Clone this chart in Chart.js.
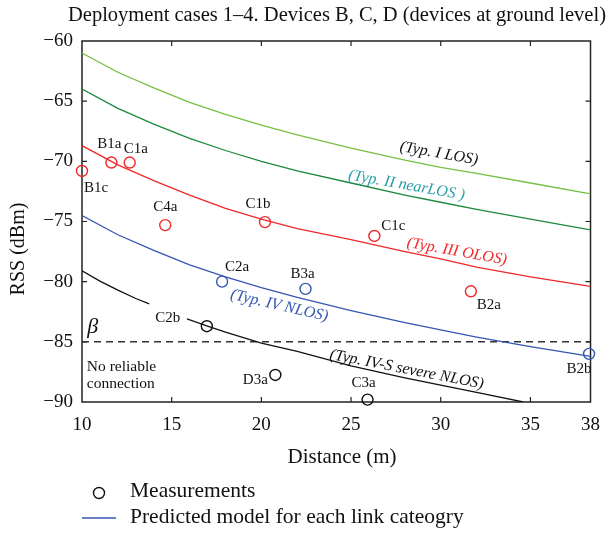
<!DOCTYPE html>
<html lang="en">
<head>
<meta charset="UTF-8">
<title>Deployment cases 1-4</title>
<script src="https://cdn.jsdelivr.net/npm/chart.js"></script>
<style>
    body { margin: 0; background: #fff; }
    canvas { display: block; }
</style>
</head>
<body>
<canvas id="rss-chart" width="612" height="533"></canvas>
<script>
    // model curves (distance in m, RSS in dBm)
    const losDist = [10, 12, 14, 16, 18, 20, 22, 25, 28, 30, 32, 35, 38.35];
    const losRss = [-61.0, -62.6, -63.9, -65.1, -66.1, -67.0, -67.8, -68.9, -69.9, -70.5, -71.0, -71.8, -72.7];
    const nearLosRss = [-64.0, -65.6, -66.9, -68.1, -69.1, -70.0, -70.8, -71.8, -72.8, -73.4, -74.0, -74.8, -75.7];
    const olosRss = [-68.7, -70.3, -71.6, -72.8, -73.9, -74.8, -75.6, -76.5, -77.5, -78.1, -78.8, -79.6, -80.4];
    const nlosRss = [-74.5, -76.1, -77.4, -78.6, -79.6, -80.5, -81.3, -82.4, -83.4, -84.0, -84.6, -85.4, -86.2];
    // severe NLOS curve has a gap where the C2b label sits
    const severeDist = [10, 11, 12, 13, 13.75, 14.8, 15.85, 17, 18, 20, 22, 25, 28, 30, 32, 34.6];
    const severeRss = [-79.1, -79.95, -80.7, -81.4, -81.85, null, -83.1, -83.7, -84.2, -85.1, -85.8, -87.0, -88.0, -88.6, -89.2, -90.0];
    const betaLevel = -85;

    // measurements
    const redNames = ['B1c', 'B1a', 'C1a', 'C4a', 'C1b', 'C1c', 'B2a'];
    const redDist = [10, 11.64, 12.66, 14.64, 20.2, 26.3, 31.68];
    const redRss = [-70.8, -70.1, -70.1, -75.3, -75.05, -76.2, -80.8];
    const blueNames = ['C2a', 'B3a', 'B2b'];
    const blueDist = [17.81, 22.46, 38.27];
    const blueRss = [-80.0, -80.6, -86.0];
    const blackNames = ['C2b', 'D3a', 'C3a'];
    const blackDist = [16.96, 20.78, 25.92];
    const blackRss = [-83.7, -87.75, -89.8];

    const xTickValues = [10, 15, 20, 25, 30, 35, 38.35];
    const xTickLabels = ['10', '15', '20', '25', '30', '35', '38'];
    const yTickValues = [-90, -85, -80, -75, -70, -65, -60];

    // label offsets in px from each measurement circle
    const labelOffsets = {
        B1c: [14, 17], B1a: [-2, -18], C1a: [6, -13], C4a: [0, -18], C1b: [-7, -18],
        C1c: [19, -10], B2a: [18, 14], C2a: [15, -15], B3a: [-3, -15], B2b: [-10, 15],
        C2b: [-39, -8], D3a: [-20, 5], C3a: [-4, -17]
    };

    const curveLabels = [
        { text: '(Typ. I LOS)', x: 29.9, y: -69.35, angle: 10, color: '#111' },
        { text: '(Typ. II nearLOS )', x: 28.1, y: -72.0, angle: 10, color: '#2a9fa6' },
        { text: '(Typ. III OLOS)', x: 30.9, y: -77.5, angle: 10, color: '#f0282a' },
        { text: '(Typ. IV NLOS)', x: 21.0, y: -82.0, angle: 13, color: '#3556b3' },
        { text: '(Typ. IV-S severe NLOS)', x: 28.1, y: -87.3, angle: 11, color: '#111' }
    ];

    const serif = '"Liberation Serif", "DejaVu Serif", serif';
    const pts = (xs, ys) => xs.map((x, i) => ({ x: x, y: ys[i] }));
    const minus = s => String(s).replace('-', '\u2212');

    function curve(data, color) {
        return { type: 'line', data: data, borderColor: color, borderWidth: 1.3,
                 pointRadius: 0, tension: 0, fill: false, order: 2 };
    }
    function marks(data, color) {
        return { type: 'scatter', data: data, borderColor: color, backgroundColor: 'rgba(0,0,0,0)',
                 borderWidth: 1.4, pointRadius: 5.5, pointStyle: 'circle', clip: false, order: 1 };
    }

    const decorations = {
        id: 'decorations',
        beforeDatasetsDraw(chart) {
            const { ctx, chartArea: a, scales } = chart;
            ctx.save();
            ctx.strokeStyle = '#222';
            ctx.lineWidth = 1.5;
            ctx.strokeRect(a.left, a.top, a.right - a.left, a.bottom - a.top);
            ctx.lineWidth = 1.2;
            xTickValues.slice(1, -1).forEach(v => {
                const px = scales.x.getPixelForValue(v);
                ctx.beginPath();
                ctx.moveTo(px, a.bottom); ctx.lineTo(px, a.bottom - 5);
                ctx.moveTo(px, a.top); ctx.lineTo(px, a.top + 5);
                ctx.stroke();
            });
            yTickValues.slice(1, -1).forEach(v => {
                const py = scales.y.getPixelForValue(v);
                ctx.beginPath();
                ctx.moveTo(a.left, py); ctx.lineTo(a.left + 5, py);
                ctx.moveTo(a.right, py); ctx.lineTo(a.right - 5, py);
                ctx.stroke();
            });
            ctx.restore();
        },
        afterDraw(chart) {
            const { ctx, chartArea: a, scales } = chart;
            const X = v => scales.x.getPixelForValue(v);
            const Y = v => scales.y.getPixelForValue(v);
            ctx.save();
            ctx.fillStyle = '#111';
            ctx.textAlign = 'center';
            ctx.textBaseline = 'middle';

            // title and axis titles
            ctx.font = '20.5px ' + serif;
            ctx.fillText('Deployment cases 1\u20134. Devices B, C, D (devices at ground level)', 337, 16);
            ctx.font = '21px ' + serif;
            ctx.fillText('Distance (m)', 342, 457);
            ctx.font = '20px ' + serif;
            ctx.save();
            ctx.translate(19, 249);
            ctx.rotate(-Math.PI / 2);
            ctx.fillText('RSS (dBm)', 0, 0);
            ctx.restore();

            // measurement labels
            ctx.font = '15px ' + serif;
            const names = [redNames, blueNames, blackNames];
            const dists = [redDist, blueDist, blackDist];
            const rss = [redRss, blueRss, blackRss];
            names.forEach((list, k) => list.forEach((n, i) => {
                const off = labelOffsets[n];
                ctx.fillText(n, X(dists[k][i]) + off[0], Y(rss[k][i]) + off[1]);
            }));

            // curve labels
            ctx.font = 'italic 16px ' + serif;
            curveLabels.forEach(l => {
                ctx.save();
                ctx.translate(X(l.x), Y(l.y));
                ctx.rotate(l.angle * Math.PI / 180);
                ctx.fillStyle = l.color;
                ctx.fillText(l.text, 0, 0);
                ctx.restore();
            });

            // threshold notes
            ctx.font = 'italic 22px ' + serif;
            ctx.fillText('\u03B2', X(10.6), Y(-83.8));
            ctx.font = '15.5px ' + serif;
            ctx.textAlign = 'left';
            ctx.fillText('No reliable', X(10.27), Y(-87.1));
            ctx.fillText('connection', X(10.27), Y(-88.5));

            // legend
            ctx.font = '21.5px ' + serif;
            ctx.strokeStyle = '#111';
            ctx.lineWidth = 1.4;
            ctx.beginPath();
            ctx.arc(99, 493, 5.5, 0, Math.PI * 2);
            ctx.stroke();
            ctx.fillText('Measurements', 130, 491);
            ctx.strokeStyle = '#3556b3';
            ctx.lineWidth = 1.3;
            ctx.beginPath();
            ctx.moveTo(82, 518); ctx.lineTo(116, 518);
            ctx.stroke();
            ctx.fillText('Predicted model for each link cateogry', 130, 517);
            ctx.restore();
        }
    };

    new Chart(document.getElementById('rss-chart'), {
        data: {
            datasets: [
                curve(pts(losDist, losRss), '#76c043'),
                curve(pts(losDist, nearLosRss), '#1d8a3c'),
                curve(pts(losDist, olosRss), '#f0282a'),
                curve(pts(losDist, nlosRss), '#3556b3'),
                curve(pts(severeDist, severeRss), '#111'),
                Object.assign(curve([{ x: 10, y: betaLevel }, { x: 38.35, y: betaLevel }], '#333'),
                              { borderDash: [7, 5], borderWidth: 1.5 }),
                marks(pts(redDist, redRss), '#f0282a'),
                marks(pts(blueDist, blueRss), '#3556b3'),
                marks(pts(blackDist, blackRss), '#111')
            ]
        },
        options: {
            responsive: false,
            animation: false,
            layout: { padding: { left: 0, right: 10, top: 41, bottom: 91 } },
            plugins: { legend: { display: false }, tooltip: { enabled: false } },
            scales: {
                x: {
                    type: 'linear', min: 10, max: 38.35,
                    grid: { display: false, drawTicks: false }, border: { display: false },
                    afterBuildTicks: s => { s.ticks = xTickValues.map(v => ({ value: v })); },
                    afterFit: s => { s.height = 40; },
                    ticks: { padding: 12, color: '#111', font: { family: serif, size: 19 },
                             maxRotation: 0, autoSkip: false,
                             callback: (v, i) => xTickLabels[i] }
                },
                y: {
                    type: 'linear', min: -90, max: -60,
                    grid: { display: false, drawTicks: false }, border: { display: false },
                    afterBuildTicks: s => { s.ticks = yTickValues.map(v => ({ value: v })); },
                    afterFit: s => { s.width = 82; },
                    ticks: { padding: 9, color: '#111', font: { family: serif, size: 19 },
                             callback: v => minus(v) }
                }
            }
        },
        plugins: [decorations]
    });
</script>
</body>
</html>
